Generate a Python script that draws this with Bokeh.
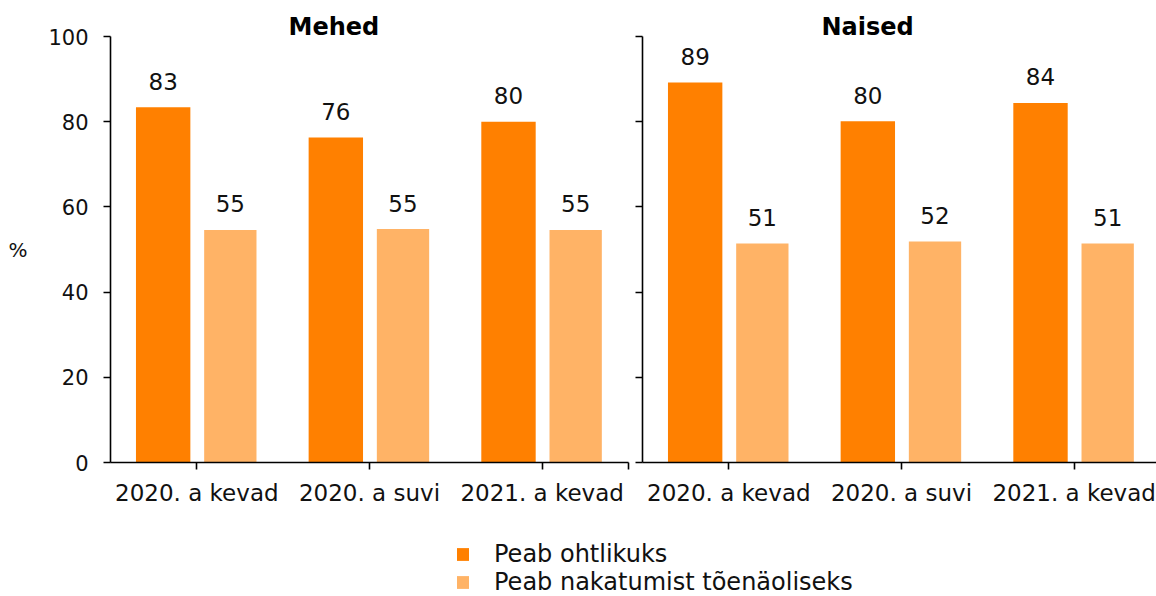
from bokeh.plotting import figure
from bokeh.models import ColumnDataSource, Range1d, FixedTicker, Legend, LegendItem
from bokeh.layouts import row, column
from bokeh.embed import file_html
from bokeh.resources import INLINE
from bokeh.core.properties import value

# ---------------- data ----------------
periods = ["2020. a kevad", "2020. a suvi", "2021. a kevad"]
panel_titles = ["Mehed", "Naised"]
series_names = ["Peab ohtlikuks", "Peab nakatumist tõenäoliseks"]
mehed_ohtlik = [83.4, 76.3, 80.0]
mehed_nakatumine = [54.6, 54.8, 54.6]
naised_ohtlik = [89.2, 80.1, 84.4]
naised_nakatumine = [51.4, 51.9, 51.4]
y_ticks = [0, 20, 40, 60, 80, 100]

# ---------------- style ----------------
DARK = "#FF8000"
LIGHT = "#FFB366"
FONT = "DejaVu Sans"
TXT = "#111111"
H = 508
TOP = 36
BOTTOM = 46
PX_PER_CAT = 172.67


def make_panel(title, dark_vals, light_vals, x_end, width, b_left, b_right,
               show_ylabels, title_offset):
    n = len(periods)
    centers = [i + 0.5 for i in range(n)]
    src = ColumnDataSource(dict(
        xd=[c - 0.195 for c in centers],
        xl=[c + 0.194 for c in centers],
        d=dark_vals, l=light_vals,
        dl=[f"{v:.0f}" for v in dark_vals],
        ll=[f"{v:.0f}" for v in light_vals],
    ))
    p = figure(width=width, height=H, x_range=Range1d(0, x_end),
               y_range=Range1d(0, 100), output_backend="svg",
               toolbar_location=None, min_border_left=b_left,
               min_border_right=b_right, min_border_top=TOP,
               min_border_bottom=BOTTOM, title=title)
    p.title.align = "left"
    p.title.offset = title_offset
    p.title.text_font = FONT
    p.title.text_font_size = "24px"
    p.title.text_font_style = "bold"
    p.title.text_color = "#000000"
    p.title.standoff = -9

    p.vbar(x="xd", top="d", bottom=0, width=0.315, source=src,
           fill_color=DARK, line_color=None)
    p.vbar(x="xl", top="l", bottom=0, width=0.303, source=src,
           fill_color=LIGHT, line_color=None)
    for xc, yc, tc in (("xd", "d", "dl"), ("xl", "l", "ll")):
        p.text(x=xc, y=yc, text=tc, source=src, text_align="center",
               text_baseline="alphabetic", y_offset=-26,
               text_font=value(FONT), text_font_size="23px", text_color=TXT)

    p.xgrid.visible = False
    p.ygrid.visible = False
    p.outline_line_color = None
    p.background_fill_color = "white"
    p.border_fill_color = "white"

    xa = p.xaxis[0]
    xa.ticker = FixedTicker(ticks=centers, minor_ticks=[float(n)])
    xa.major_label_overrides = {c: periods[i] for i, c in enumerate(centers)}
    xa.major_label_text_font = FONT
    xa.major_label_text_font_size = "23px"
    xa.major_label_text_color = TXT
    xa.major_label_standoff = 10
    xa.major_tick_out = 7
    xa.major_tick_in = 0
    xa.minor_tick_out = 7
    xa.minor_tick_in = 0

    ya = p.yaxis[0]
    for a in (xa, ya):
        a.axis_line_width = 1.6
        a.major_tick_line_width = 1.6
        a.minor_tick_line_width = 1.6
        a.axis_line_color = "#000000"
        a.major_tick_line_color = "#000000"
        a.minor_tick_line_color = "#000000"
    if show_ylabels:
        ya.ticker = FixedTicker(ticks=y_ticks)
        ya.major_tick_out = 7
        ya.major_tick_in = 0
        ya.minor_tick_out = 0
        ya.minor_tick_in = 0
        ya.major_label_text_font = FONT
        ya.major_label_text_font_size = "21px"
        ya.major_label_text_color = TXT
        ya.major_label_standoff = 15
        ya.axis_label = "%"
        ya.axis_label_orientation = "horizontal"
        ya.axis_label_text_font = FONT
        ya.axis_label_text_font_size = "20px"
        ya.axis_label_text_font_style = "normal"
        ya.axis_label_text_color = TXT
        ya.axis_label_standoff = 18
    else:
        # ticks only, no labels (same scale as the left panel)
        ya.ticker = FixedTicker(ticks=[], minor_ticks=y_ticks)
        ya.minor_tick_out = 7
        ya.minor_tick_in = 0
        ya.major_tick_out = 0
        ya.major_tick_in = 0
        ya.major_label_standoff = 0
    return p


p1 = make_panel(panel_titles[0], mehed_ohtlik, mehed_nakatumine,
                3.0, 632, 110, 4, True, 178)
p2 = make_panel(panel_titles[1], naised_ohtlik, naised_nakatumine,
                514 / PX_PER_CAT, 524, 10, 0, False, 179)

# legend strip: swatch renderers carry the series data but are hidden,
# so only the legend entries are drawn
p3 = figure(width=1156, height=88, x_range=Range1d(0, 3), y_range=Range1d(0, 100),
            output_backend="svg", toolbar_location=None,
            x_axis_location=None, y_axis_location=None,
            min_border_left=0, min_border_right=0, min_border_top=0,
            min_border_bottom=0)
if p3.title is not None:
    p3.title.visible = False
p3.xgrid.visible = False
p3.ygrid.visible = False
p3.outline_line_color = None
leg_src = ColumnDataSource(dict(x=[i + 0.5 for i in range(len(periods))],
                                a=mehed_ohtlik, b=mehed_nakatumine))
r1 = p3.vbar(x="x", top="a", bottom=0, width=0.3, source=leg_src,
             fill_color=DARK, line_color=None, visible=False)
r2 = p3.vbar(x="x", top="b", bottom=0, width=0.3, source=leg_src,
             fill_color=LIGHT, line_color=None, visible=False)
legend = Legend(items=[LegendItem(label=series_names[0], renderers=[r1]),
                       LegendItem(label=series_names[1], renderers=[r2])],
                location=(455, 0), glyph_width=15, glyph_height=16,
                label_standoff=24, padding=0, margin=0, spacing=0,
                border_line_color=None, background_fill_alpha=0,
                inactive_fill_alpha=0,
                label_text_font=FONT, label_text_font_size="24px",
                label_text_color=TXT)
p3.add_layout(legend)

layout = column(row(p1, p2), p3)
open("out.html", "w").write(file_html(layout, INLINE))
